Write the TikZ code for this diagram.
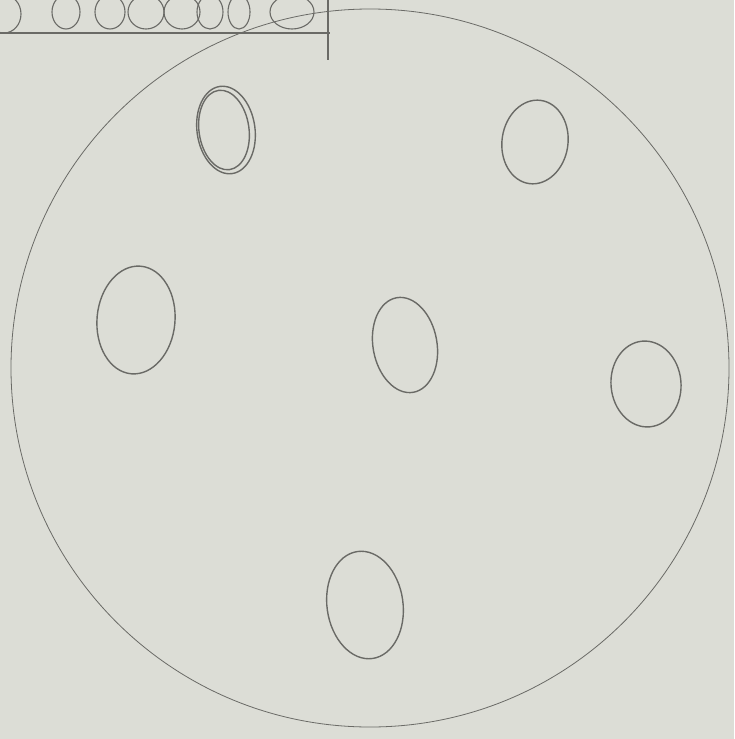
\documentclass[tikz,border=0pt]{standalone}
\usetikzlibrary{calc}
\definecolor{paper}{HTML}{DCDDD6}
\definecolor{pencil}{HTML}{6A6A66}
\tikzset{line width=1pt,
  sketch/.style={draw=pencil,line width=1.1pt},
  rim/.style={draw=pencil,line width=.8pt},
  seed/.style={draw=pencil,line width=1.4pt}}

\begin{document}
\begin{tikzpicture}[x=1pt,y=1pt]
\fill[paper] (0,0) rectangle (734,-739);
\useasboundingbox (0,0) rectangle (734,-739);
% big circle
\draw[rim] (370,-368) circle (359);
% ovals inside
\foreach \cx/\cy/\rx/\ry/\rot in {226/130/29/44/8, 535/142/33/42/-8, 136/320/39/54/-5,
  405/345/32/48/10, 646/384/35/43/5, 365/605/38/54/8}
  \draw[seed] (\cx,-\cy) ellipse[x radius=\rx,y radius=\ry,rotate=\rot];
\draw[seed] (224,-130) ellipse[x radius=25,y radius=40,rotate=8];
% top strip
\begin{scope}
\clip (0,0) rectangle (734,-739);
\draw[sketch] (4,-14) ellipse[x radius=17,y radius=19];
\foreach \cx/\rx in {66/14, 110/15, 146/18, 182/18, 210/13, 239/11, 292/22}
  \draw[sketch] (\cx,-12) ellipse[x radius=\rx,y radius=17];
\end{scope}
\draw[sketch] (0,-33) -- (330,-33);
\draw[sketch] (328,0) -- (328,-60);
\end{tikzpicture}
\end{document}
